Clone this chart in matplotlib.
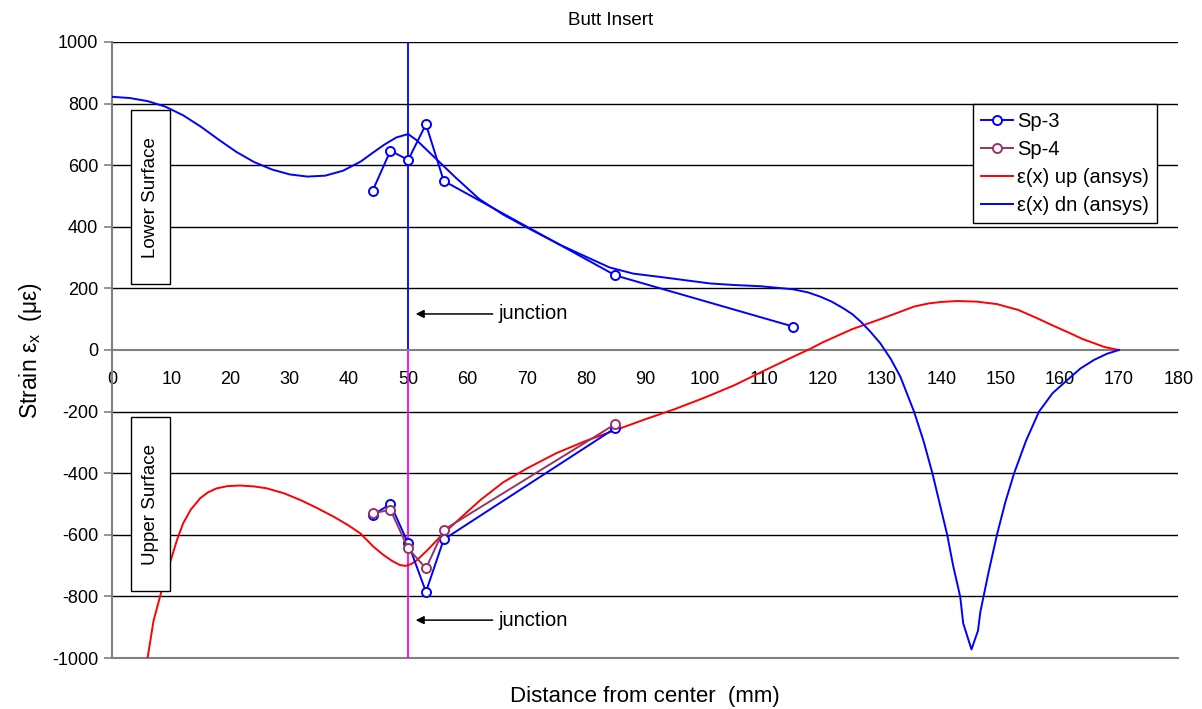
import numpy as np
import matplotlib
matplotlib.use("Agg")
import matplotlib.pyplot as plt
from matplotlib.patches import Rectangle

plt.rcParams['font.family'] = ['Liberation Sans', 'DejaVu Sans']
plt.rcParams['mathtext.fontset'] = 'custom'
plt.rcParams['mathtext.rm'] = 'Liberation Sans'
plt.rcParams['mathtext.it'] = 'Liberation Sans'
plt.rcParams['axes.unicode_minus'] = False

# measured strains, gauge positions (mm)
sp3_x = [44, 47, 50, 53, 56, 85, 115]
sp3_dn = [517, 647, 617, 733, 549, 242, 76]
sp3_up_x = [44, 47, 50, 53, 56, 85]
sp3_up = [-536, -500, -628, -785, -615, -253]
sp4_x = [44, 47, 50, 53, 56, 85]
sp4_up = [-530, -519, -644, -709, -584, -240]

# ansys results, lower surface
dn_x = [0, 3, 6, 9, 12, 15, 18, 21, 24, 27, 30, 33, 36, 39, 42, 44, 46, 48, 50,
        51.5, 53, 55.4, 58, 62, 66, 70, 75.7, 80, 84, 88, 92.6, 97, 101, 105,
        109.5, 115, 117.5, 119.6, 121.5, 123.5, 125, 126.4, 128, 129.7, 131.5,
        133.1, 135.4, 137, 138.5, 140, 141, 142, 143.2, 143.7, 145.1, 146.2,
        146.6, 148, 149.4, 150.8, 152.3, 154.3, 156.5, 158.8, 161.3, 163.5,
        165.8, 168, 170]
dn_y = [822, 818, 808, 790, 762, 725, 683, 643, 610, 586, 570, 563, 566, 582,
        612, 640, 667, 690, 701, 680, 652, 608, 560, 490, 440, 398, 341, 303,
        268, 248, 237, 226, 216, 211, 207, 197, 187, 173, 157, 135, 116, 92,
        60, 22, -30, -87, -200, -295, -400, -520, -600, -700, -801, -887, -972,
        -911, -850, -720, -600, -495, -400, -295, -200, -140, -97, -60, -32,
        -12, 0]

# ansys results, upper surface
up_x = [5.5, 7, 8.4, 9.3, 10.1, 11, 12, 13.3, 14.9, 16.2, 17.7, 19.5, 21.6,
        24, 26.1, 29, 31.8, 34.5, 37.4, 39.8, 41.9, 44.1, 45.8, 47.3, 48.6,
        49.5, 50.5, 51.5, 53.5, 55.4, 58, 60, 62.2, 66, 70, 75, 80, 85, 90, 95,
        100, 105, 110, 115, 118, 120, 125, 129.7, 132.5, 135.4, 137.8, 140,
        142.7, 146, 149.4, 153, 156.2, 159, 161.8, 163.8, 165.8, 167.5, 169.2,
        170]
up_y = [-1060, -880, -779, -720, -671, -615, -563, -518, -481, -462, -449,
        -442, -440, -443, -449, -465, -487, -512, -541, -568, -595, -638, -665,
        -685, -698, -701, -695, -682, -645, -606, -560, -525, -487, -430, -385,
        -335, -295, -260, -225, -192, -155, -115, -68, -22, 5, 25, 68, 100, 120,
        141, 151, 156, 159, 157, 149, 130, 103, 78, 54, 36, 22, 10, 3, 0]

junction = 50
x_ticks = np.arange(0, 181, 10)
y_ticks = np.arange(-1000, 1001, 200)

fig = plt.figure(figsize=(12.02, 7.09), dpi=100)
ax = fig.add_axes([0.0932, 0.0719, 0.8870, 0.8689])

ax.set_xlim(0, 180)
ax.set_ylim(-1000, 1000)

for yv in y_ticks:
    if yv in (0, -1000):
        continue
    ax.axhline(yv, color='black', lw=1.0, zorder=1)
ax.axhline(-1000, color='#808080', lw=1.5, zorder=1, clip_on=False)

# junction markers
ax.plot([junction, junction], [0, 1000], color='#0000FF', lw=1.3, zorder=2)
ax.plot([junction, junction], [-1000, 0], color='#FF00FF', lw=1.3, zorder=2)

ax.plot(up_x, up_y, color='#FF0000', lw=1.4, zorder=3, label='ε(x) up (ansys)')
ax.plot(dn_x, dn_y, color='#0000FF', lw=1.4, zorder=3, label='ε(x) dn (ansys)')

mk = dict(marker='o', markersize=6.5, markerfacecolor='white', markeredgewidth=1.4, lw=1.4)
ax.plot(sp3_x, sp3_dn, color='#0000FF', zorder=4, label='Sp-3', **mk)
ax.plot(sp3_up_x, sp3_up, color='#0000FF', zorder=4, **mk)
ax.plot(sp4_x, sp4_up, color='#993366', zorder=5, label='Sp-4', **mk)

# axes styling
for s in ['top', 'right']:
    ax.spines[s].set_visible(False)
ax.spines['bottom'].set_position(('data', 0))
ax.spines['bottom'].set_color('#808080')
ax.spines['bottom'].set_linewidth(1.5)
ax.spines['left'].set_color('#808080')
ax.spines['left'].set_linewidth(1.5)

ax.set_xticks(x_ticks)
ax.set_yticks(y_ticks)
ax.tick_params(axis='x', length=0, pad=15, labelsize=13)
ax.tick_params(axis='y', length=6, width=1.2, color='#808080', pad=4, labelsize=13)

fig.text(0.508, 0.971, 'Butt Insert', fontsize=13.5, ha='center', va='center')
ax.set_xlabel('Distance from center  (mm)', fontsize=16)
ax.xaxis.set_label_coords(0.5, -0.045)
ax.set_ylabel('Strain ε$_\\mathrm{x}$  (με)', fontsize=16.5, labelpad=6)

# surface boxes
for y0, y1, name in [(214, 779, 'Lower Surface'), (-782, -218, 'Upper Surface')]:
    ax.add_patch(Rectangle((3.2, y0), 6.6, y1 - y0, facecolor='white',
                           edgecolor='black', lw=1.0, zorder=6))
    ax.text(6.5, (y0 + y1) / 2, name, rotation=90, ha='center', va='center',
            fontsize=13.5, zorder=7)

arrow = dict(arrowstyle='-|>', color='black', lw=1.1, mutation_scale=12)
ax.annotate('junction', xy=(50.8, 117), xytext=(65.2, 117), fontsize=14.5,
            va='center', ha='left', arrowprops=arrow, zorder=6)
ax.annotate('junction', xy=(50.8, -877), xytext=(65.2, -877), fontsize=14.5,
            va='center', ha='left', arrowprops=arrow, zorder=6)

h, l = ax.get_legend_handles_labels()
order = [l.index(n) for n in ['Sp-3', 'Sp-4', 'ε(x) up (ansys)', 'ε(x) dn (ansys)']]
leg = ax.legend([h[i] for i in order], [l[i] for i in order],
                loc='upper right', bbox_to_anchor=(0.980, 0.899), fontsize=14.5,
                fancybox=False, framealpha=1, edgecolor='black',
                handlelength=1.6, handletextpad=0.2, labelspacing=0.45,
                borderpad=0.4, borderaxespad=0)
leg.get_frame().set_linewidth(1.0)
leg.set_zorder(8)

fig.savefig('out.png', dpi=100)
